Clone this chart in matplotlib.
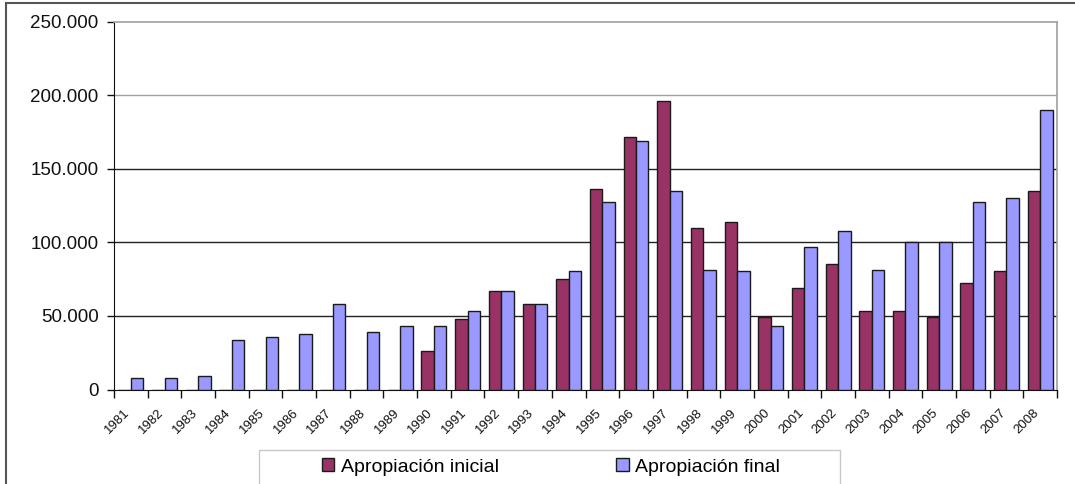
import matplotlib
matplotlib.use("Agg")
import matplotlib.pyplot as plt
from matplotlib.patches import Rectangle
from matplotlib.ticker import FuncFormatter, FixedLocator
import matplotlib.transforms as mtransforms
import numpy as np

plt.rcParams['font.family'] = ['Liberation Sans', 'DejaVu Sans']

years = [str(y) for y in range(1981, 2009)]
apropiacion_inicial = [0, 0, 0, 0, 0, 0, 0, 0, 0, 26000,
                       47700, 67000, 58000, 75200, 136500, 171800, 196000, 109600, 113900, 49500,
                       69000, 85300, 53000, 53000, 49500, 72500, 80500, 134800]
apropiacion_final = [8000, 8000, 9000, 33500, 35500, 38000, 58000, 38800, 43000, 43000,
                     53200, 67000, 58000, 80700, 127500, 168500, 134800, 81400, 80500, 43200,
                     96900, 107800, 81400, 100000, 100000, 127500, 130300, 190000]

W, H = 1075, 484
fig = plt.figure(figsize=(W / 100, H / 100), dpi=100)
ax = fig.add_axes([114 / W, 1 - 389.5 / H, (1057 - 114) / W, (389.5 - 21.5) / H])

x = np.arange(len(years))
w = 0.37
red = '#993366'
blue = '#9999ff'
b1 = ax.bar(x - w / 2, apropiacion_inicial, w, color=red, edgecolor='#1a1a1a', linewidth=1.0, zorder=3,
            label='Apropiación inicial')
b2 = ax.bar(x + w / 2, apropiacion_final, w, color=blue, edgecolor='#1a1a1a', linewidth=1.0, zorder=3,
            label='Apropiación final')

ax.set_xlim(-0.5, len(years) - 0.5)
ax.set_ylim(0, 250000)

# horizontal gridlines: upper ones light grey, lower ones dark
for level, col in [(50000, '#222222'), (100000, '#222222'), (150000, '#222222'), (200000, '#a0a0a0')]:
    ax.axhline(level, color=col, linewidth=1.0, zorder=1)

ax.spines['top'].set_color('#a0a0a0')
ax.spines['right'].set_color('#a0a0a0')
ax.spines['top'].set_linewidth(1.2)
ax.spines['right'].set_linewidth(1.2)
ax.spines['left'].set_color('#111111')
ax.spines['bottom'].set_color('#111111')

ax.set_yticks(np.arange(0, 250001, 50000))
ax.yaxis.set_major_formatter(FuncFormatter(lambda v, p: f"{int(v):,}".replace(',', '.')))
ax.tick_params(axis='y', direction='out', length=5, width=1, labelsize=13.5, pad=6, colors='#111111')

# x ticks at category boundaries, labels centered under groups
ax.xaxis.set_major_locator(FixedLocator(np.arange(-0.5, len(years), 1.0)))
ax.xaxis.set_major_formatter(FuncFormatter(lambda v, p: ''))
ax.tick_params(axis='x', which='major', direction='out', length=6, width=1, colors='#111111')
offset = mtransforms.ScaledTranslation(-7 / 100, -17 / 100, fig.dpi_scale_trans)
for xi, lab in zip(x, years):
    ax.text(xi, 0, lab, rotation=45, ha='right', va='top', fontsize=9.5, color='#111111',
            transform=ax.get_xaxis_transform() + offset, rotation_mode='anchor')

# legend box
fig.patches.append(Rectangle((259 / W, -0.05), (840 - 259) / W, 1 - 450 / H + 0.05,
                             transform=fig.transFigure, fill=False, edgecolor='#c8c8c8', linewidth=1.0))
fig.legend(handles=[b1, b2], loc='center', bbox_to_anchor=(551 / W, 1 - 467 / H), ncol=2, frameon=False,
           fontsize=14, handlelength=0.65, handleheight=0.65, handletextpad=0.35, columnspacing=6.0)

# outer frame
fig.patches.append(Rectangle((6 / W, -0.1), 1.2, 1 - 2.5 / H + 0.1, transform=fig.transFigure,
                             fill=False, edgecolor='#555555', linewidth=1.5))

fig.savefig('out.png', dpi=100)
